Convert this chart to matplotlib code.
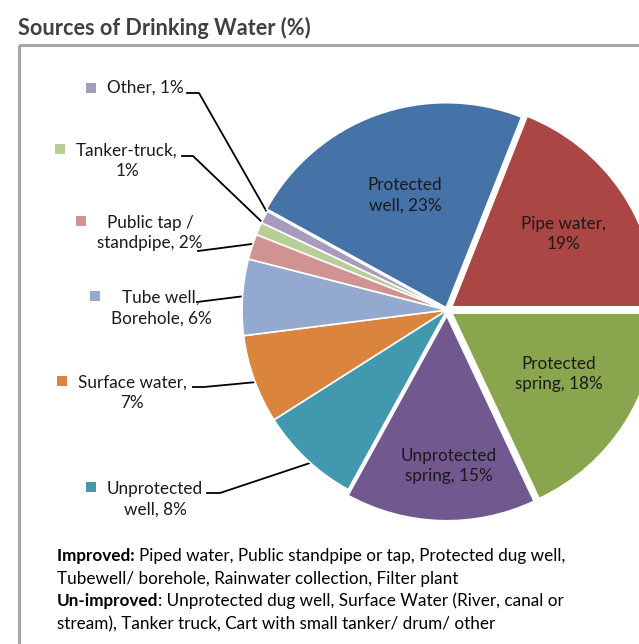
import matplotlib
matplotlib.use("Agg")
import matplotlib.pyplot as plt
from matplotlib.patches import Rectangle

W, H = 639, 644

# ---------------------------------------------------------- data
sources = ['Protected well', 'Pipe water', 'Protected spring', 'Unprotected spring',
           'Unprotected well', 'Surface water', 'Tube well, Borehole',
           'Public tap / standpipe', 'Tanker-truck', 'Other']
percent = [23, 19, 18, 15, 8, 7, 6, 2, 1, 1]
colours = ['#4572A7', '#AA4643', '#89A54E', '#71588F', '#4198AF',
           '#DB843D', '#93A9CF', '#D19392', '#B9CD96', '#A99BBD']
explode = [0.012, 0.028, 0.028, 0.028, 0, 0, 0, 0, 0, 0]

improved = 'Piped water, Public standpipe or tap, Protected dug well,'
improved2 = 'Tubewell/ borehole, Rainwater collection, Filter plant'
unimproved = ': Unprotected dug well, Surface Water (River, canal or'
unimproved2 = 'stream), Tanker truck, Cart with small tanker/ drum/ other'

plt.rcParams['font.family'] = ['Lato', 'DejaVu Sans']
FS = 12.3
TXT = '#1a1a1a'

fig = plt.figure(figsize=(W / 100, H / 100), dpi=100)
fig.patch.set_facecolor('white')


def pixel_axes(z):
    a = fig.add_axes([0, 0, 1, 1])
    a.set_xlim(0, W)
    a.set_ylim(H, 0)
    a.axis('off')
    a.set_zorder(z)
    return a


# overlay underneath the pie: frame, outside labels and leader lines
ov = pixel_axes(1)
ov.add_patch(Rectangle((19, 45), 700, 700, fill=False, edgecolor='#A6A6A6', lw=2.2))
ov.text(18, 28, 'Sources of Drinking Water (%)', fontsize=15.6, fontweight='bold',
        color='#404040', ha='left', va='center')

# ---------------------------------------------------------- pie
cx, cy, r = 447, 310, 205
ax = fig.add_axes([(cx - r) / W, 1 - (cy + r) / H, 2 * r / W, 2 * r / H])
ax.pie(percent, colors=colours, explode=explode, startangle=151.2, counterclock=False,
       wedgeprops=dict(edgecolor='white', linewidth=1.2))
ax.set_xlim(-1, 1)
ax.set_ylim(-1, 1)
ax.set_aspect('auto')
ax.axis('off')
ax.set_zorder(2)

# labels on top of the pie
top = pixel_axes(3)
inside = {0: (405, 195, 'Protected\nwell, {}%'),
          1: (563, 234, 'Pipe water,\n{}%'),
          2: (559, 374, 'Protected\nspring, {}%'),
          3: (449, 466, 'Unprotected\nspring, {}%')}
for i, (x, y, fmt) in inside.items():
    top.text(x, y, fmt.format(percent[i]), fontsize=FS, color=TXT, ha='center',
             va='center', linespacing=1.35)

# outside labels with a coloured square and leader line
outside = [
    (9, 'Other, {}%', 107, 88, 'left', (91, 88), [(187, 93), (199, 93), (268, 214)]),
    (8, 'Tanker-truck,\n{}%', 127, 161, 'center', (60, 149), [(182, 156), (193, 156), (263, 223)]),
    (7, 'Public tap /\nstandpipe, {}%', 150, 233, 'center', (81, 221), [(198, 251), (252, 244)]),
    (6, 'Tube well,\nBorehole, {}%', 161, 308, 'center', (95, 296), [(197, 302), (245, 296)]),
    (5, 'Surface water,\n{}%', 132, 393, 'center', (62, 381), [(193, 387), (204, 387), (257, 382)]),
    (4, 'Unprotected\nwell, {}%', 155, 499, 'center', (91, 487), [(207, 493), (220, 493), (310, 463)]),
]
for i, fmt, x, y, ha, sq, line in outside:
    ov.text(x, y, fmt.format(percent[i]), fontsize=FS, color=TXT, ha=ha, va='center',
            linespacing=1.35, multialignment='center')
    ov.add_patch(Rectangle((sq[0] - 5, sq[1] - 5), 10, 10, color=colours[i], lw=0))
    xs, ys = zip(*line)
    ov.plot(xs, ys, color='black', lw=1.3, zorder=1)

# ---------------------------------------------------------- notes under the pie
x0 = 57
for y, bold, rest in [(561, 'Improved: ', improved), (584, None, improved2),
                      (606, 'Un-improved', unimproved), (629, None, unimproved2)]:
    if bold:
        t = top.text(x0, y, bold, fontsize=FS, fontweight='bold', color='black',
                     ha='left', va='baseline')
        top.annotate(rest, xy=(1, y), xycoords=(t, 'data'), fontsize=FS,
                     color='black', ha='left', va='baseline')
    else:
        top.text(x0, y, rest, fontsize=FS, color='black', ha='left', va='baseline')

fig.savefig('out.png', dpi=100)
